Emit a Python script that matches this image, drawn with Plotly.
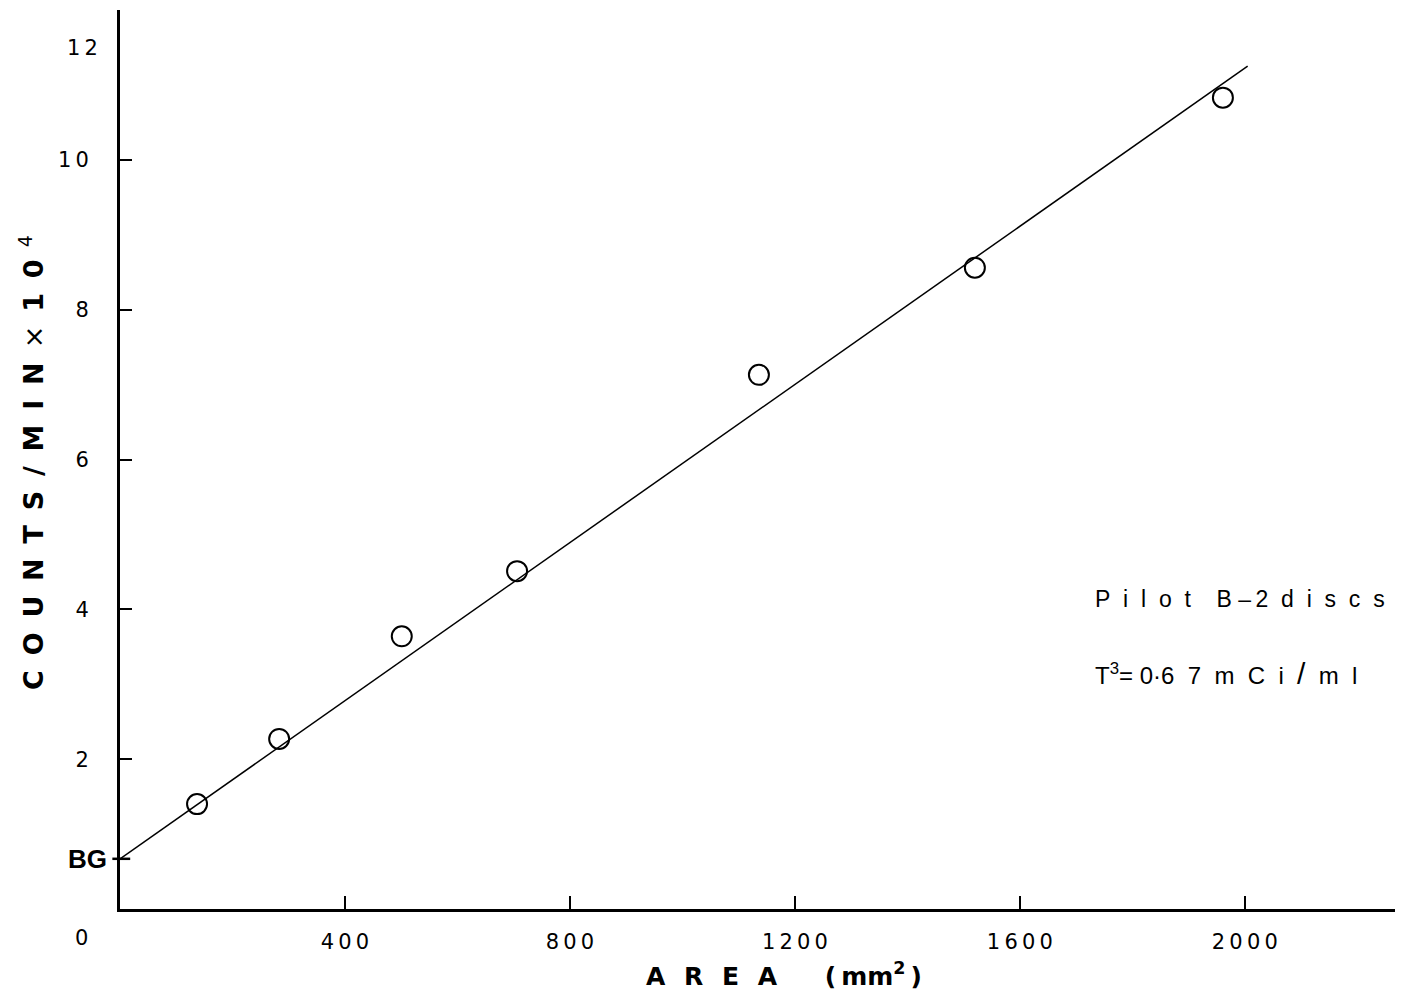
import plotly.graph_objects as go

# Data
area = [137, 283, 501, 706, 1136, 1520, 1961]
counts = [1.40, 2.27, 3.64, 4.51, 7.13, 8.56, 10.83]
fit_x = [0, 2005]
fit_y = [0.67, 11.25]
x_ticks = [400, 800, 1200, 1600, 2000]
x_tick_text = ["400", "800", "1200", "1600", "2000"]
y_ticks = [2, 4, 6, 8, 10]
y_tick_text = ["2", "4", "6", "8", "10"]
bg_level = 0.67

FONT = "DejaVu Sans, Liberation Sans, Arial, sans-serif"
SANS = "Liberation Sans, Arial, sans-serif"
HS = "\u2009"  # thin space for letter spacing


def spaced(s, sep=HS):
    return sep.join(list(s))


fig = go.Figure()
fig.add_trace(go.Scatter(x=fit_x, y=fit_y, mode="lines",
                         line=dict(color="black", width=1.5), showlegend=False))
fig.add_trace(go.Scatter(x=area, y=counts, mode="markers",
                         marker=dict(symbol="circle-open", size=20, color="black",
                                     line=dict(width=2, color="black")),
                         showlegend=False))

fig.update_layout(
    width=1402, height=999,
    margin=dict(l=120, r=7, t=10, b=90),
    paper_bgcolor="white", plot_bgcolor="white",
    font=dict(family=FONT, color="black", size=20),
    xaxis=dict(range=[0, 2267], showgrid=False, zeroline=False,
               showline=True, linecolor="black", linewidth=2.5,
               tickvals=x_ticks, ticktext=[spaced(t) for t in x_tick_text],
               ticks="inside", ticklen=13, tickwidth=1.5, tickcolor="black",
               tickfont=dict(size=21, family=FONT), ticklabelstandoff=12),
    yaxis=dict(range=[0, 12], showgrid=False, zeroline=False,
               showline=True, linecolor="black", linewidth=3,
               tickvals=y_ticks, ticktext=[spaced(t) for t in y_tick_text],
               ticks="inside", ticklen=12, tickwidth=1.5, tickcolor="black",
               tickfont=dict(size=21, family=FONT), ticklabelstandoff=24),
)

# BG tick mark
fig.add_shape(type="line", xref="paper", yref="y", x0=-0.006, x1=0.008,
              y0=bg_level, y1=bg_level, line=dict(color="black", width=2.5))

G = "&nbsp;" + HS
ytitle = ("<b>" + G.join(list("COUNTS")) + G + "/" + G + G.join(list("MIN"))
          + "</b>" + G + "×" + G + "<b>1" + G + "0</b><sup>" + "&nbsp; 4</sup>")

xtitle = ("<b>" + ("&nbsp;" + HS + HS).join(list("AREA")) + "</b>&nbsp;&nbsp;&nbsp;&nbsp;&nbsp;&nbsp;"
          + "<b>(" + HS + "mm<sup>2</sup>" + HS + ")</b>")

annotations = [
    dict(text="<b>BG</b>", xref="paper", yref="y", x=-0.009, y=bg_level,
         xanchor="right", yanchor="middle", showarrow=False,
         font=dict(size=26, family=SANS)),
    dict(text=spaced("12"), xref="paper", yref="paper", x=-0.0157, y=0.958,
         xanchor="right", yanchor="middle", showarrow=False, font=dict(size=21)),
    dict(text="0", xref="paper", yref="paper", x=-0.0235, y=-0.032,
         xanchor="right", yanchor="middle", showarrow=False, font=dict(size=21)),
    dict(text=xtitle,
         xref="paper", yref="paper", x=0.521, y=-0.073,
         xanchor="center", yanchor="middle", showarrow=False,
         font=dict(size=25, family=FONT)),
    dict(text=ytitle,
         xref="paper", yref="paper", x=-0.07, y=0.497, textangle=-90,
         xanchor="center", yanchor="middle", showarrow=False,
         font=dict(size=27, family=FONT)),
    dict(text="P&nbsp; i&nbsp; l&nbsp; o&nbsp; t&nbsp;&nbsp;&nbsp; B –" + HS + "2&nbsp; d&nbsp; i&nbsp; s&nbsp; c&nbsp; s",
         xref="paper", yref="paper",
         x=0.763, y=0.345, xanchor="left", yanchor="middle", showarrow=False,
         font=dict(size=23, family=SANS)),
    dict(text="T<sup>3</sup>= 0·6&nbsp; 7&nbsp; m&nbsp; C&nbsp; i&nbsp; <span style='font-size:30px'>/</span>&nbsp; m&nbsp; l",
         xref="paper", yref="paper",
         x=0.763, y=0.262, xanchor="left", yanchor="middle", showarrow=False,
         font=dict(size=24, family=SANS)),
]
fig.update_layout(annotations=annotations)

fig.write_html("out.html")
